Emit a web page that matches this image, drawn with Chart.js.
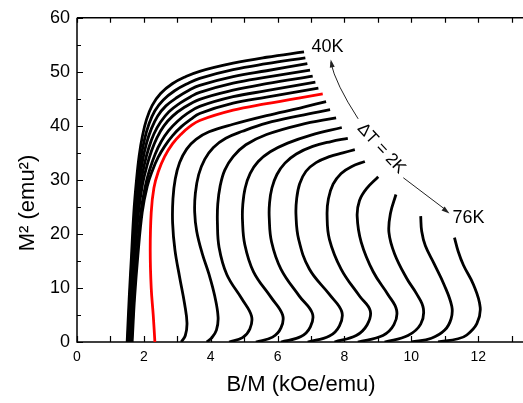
<!DOCTYPE html>
<html><head><meta charset="utf-8">
<script src="https://cdn.jsdelivr.net/npm/chart.js@4.4.1/dist/chart.umd.min.js"></script>
<style>
html,body{margin:0;padding:0;background:#fff;overflow:hidden;}
#wrap{position:relative;width:523px;height:403px;overflow:hidden;background:#fff;}
canvas{display:block;}
</style></head><body>
<div id="wrap"><canvas id="c" width="530" height="403"></canvas></div>
<script>
// ---- Data ----
const temps = [40, 42, 44, 46, 48, 50, 52, 54, 56, 58, 60, 62, 64, 66, 68, 70, 72, 74, 76];
const redTemp = 54;

const t40x = [1.50,1.56,1.63,1.70,1.78,1.86,1.96,2.08,2.25,2.50,2.85,3.25,3.67,4.67,5.67,6.79];
const t40y = [0,8,16,24,30,34.5,38.2,41.2,43.8,46.0,47.8,49.1,50.1,51.6,52.7,53.7];
const t42x = [1.52,1.58,1.65,1.73,1.82,1.91,2.02,2.15,2.33,2.58,2.92,3.30,3.67,4.67,5.67,6.83];
const t42y = [0,8,16,24,29.8,34.0,37.5,40.3,42.8,44.8,46.5,47.8,48.8,50.4,51.5,52.6];
const t44x = [1.54,1.60,1.67,1.76,1.86,1.96,2.08,2.22,2.41,2.66,3.00,3.35,3.67,4.67,5.67,6.89];
const t44y = [0,8,16,24,29.6,33.5,36.8,39.4,41.8,43.7,45.3,46.6,47.5,49.1,50.2,51.5];
const t46x = [1.56,1.62,1.70,1.80,1.91,2.02,2.15,2.30,2.50,2.75,3.08,3.40,3.67,4.67,5.67,6.97];
const t46y = [0,8,16,24,29.4,33.0,36.0,38.5,40.7,42.6,44.2,45.4,46.2,47.9,49.0,50.3];
const t48x = [1.58,1.65,1.73,1.84,1.96,2.09,2.23,2.39,2.60,2.86,3.18,3.67,4.67,5.67,7.05];
const t48y = [0,8,16,24,29.2,32.6,35.4,37.8,40.0,41.8,43.3,44.9,46.6,47.8,49.2];
const t50x = [1.63,1.70,1.79,1.91,2.05,2.19,2.34,2.52,2.74,3.00,3.30,3.67,4.67,5.67,7.13];
const t50y = [0,8,16,24,29,32.2,34.8,37.1,39.1,40.8,42.3,43.6,45.4,46.5,48.1];
const t52x = [1.65,1.72,1.82,1.95,2.10,2.26,2.43,2.63,2.86,3.13,3.40,3.67,4.67,5.67,7.22];
const t52y = [0,8,16,24,28.8,31.8,34.2,36.3,38.2,39.9,41.2,42.3,44.2,45.3,47.0];
const t54x = [2.33,2.28,2.22,2.19,2.22,2.30,2.43,2.62,2.86,3.12,3.38,3.67,4.67,5.67,6.67,7.35];
const t54y = [0,5,10,17,24,28.5,31.5,34.3,36.7,38.5,39.9,41.0,42.9,44.1,45.2,45.9];
const t56x = [3.12,3.24,3.29,3.22,3.07,2.93,2.86,2.87,2.94,3.07,3.28,3.56,3.95,4.67,5.67,6.67,7.45];
const t56y = [0,1.2,3.5,7,12,17,22,26.5,30.2,33.2,35.7,37.5,38.9,40.3,41.9,43.3,44.5];
const t58x = [3.88,4.02,4.17,4.22,4.12,3.95,3.74,3.58,3.52,3.54,3.64,3.82,4.08,4.45,4.95,5.67,6.67,7.57];
const t58y = [0,0.7,2.2,4.6,8.5,12.5,16.5,20.5,24,27.5,31,33.8,36,37.7,39.0,40.5,41.9,43.0];
const t60x = [4.55,4.95,5.17,5.22,4.93,4.48,4.25,4.20,4.21,4.28,4.42,4.67,5.05,5.67,6.67,7.75];
const t60y = [0,0.8,2.4,4.8,8,12.5,17.5,22,25.5,28.8,31.8,34.3,36.5,38.4,40.2,41.5];
const t62x = [5.35,5.85,6.10,6.15,5.80,5.28,5.02,4.95,4.96,5.03,5.18,5.42,5.78,6.30,7.00,7.92];
const t62y = [0,0.9,2.6,5,8.3,13,18,22.5,25.5,28.5,31.2,33.4,35.2,36.8,38.3,39.7];
const t64x = [6.10,6.70,6.98,7.04,6.65,6.10,5.82,5.75,5.76,5.83,5.98,6.22,6.56,7.05,7.60,8.10];
const t64y = [0,1.0,2.8,5.3,8.5,13.5,18.5,23,25.8,28.5,31.0,33.1,34.8,36.2,37.1,37.7];
const t66x = [6.90,7.55,7.85,7.92,7.55,6.95,6.63,6.55,6.57,6.66,6.85,7.15,7.55,7.95,8.31];
const t66y = [0,1.1,3.0,5.6,8.8,13.5,19,23.5,26.5,29.3,31.6,33.2,34.3,35.0,35.6];
const t68x = [7.70,8.35,8.68,8.77,8.45,7.90,7.55,7.48,7.52,7.66,7.90,8.22,8.61];
const t68y = [0,1.2,3.2,5.8,8.5,13.5,19,23.5,26.5,29.2,31.2,32.5,33.4];
const t70x = [8.40,9.15,9.48,9.56,9.30,8.86,8.50,8.38,8.45,8.66,9.01];
const t70y = [0,1.2,3.2,5.9,8.8,13,18.5,23.3,26.2,28.4,30.6];
const t72x = [9.20,9.90,10.28,10.36,10.15,9.86,9.50,9.33,9.38,9.54];
const t72y = [0,1.2,3.3,6.2,9,11.8,16.3,20.3,23.9,27.3];
const t74x = [10.00,10.60,11.00,11.19,11.21,10.98,10.68,10.42,10.31,10.28];
const t74y = [0,0.7,2.2,4.3,6.6,10.6,14.5,17.8,20.5,23.3];
const t76x = [10.80,11.40,11.66,11.96,12.06,11.86,11.56,11.40,11.29];
const t76y = [0,0.6,1.3,3.4,6.4,10.6,14.2,16.8,19.3];

const curvesX = [t40x,t42x,t44x,t46x,t48x,t50x,t52x,t54x,t56x,t58x,t60x,t62x,t64x,t66x,t68x,t70x,t72x,t74x,t76x];
const curvesY = [t40y,t42y,t44y,t46y,t48y,t50y,t52y,t54y,t56y,t58y,t60y,t62y,t64y,t66y,t68y,t70y,t72y,t74y,t76y];

const xTickLabels = [0, 2, 4, 6, 8, 10, 12];
const yTickLabels = [0, 10, 20, 30, 40, 50, 60];
const xMinorTicks = [0,1,2,3,4,5,6,7,8,9,10,11,12,13];
const yMinorTicks = [0,5,10,15,20,25,30,35,40,45,50,55,60];

const xTitle = 'B/M (kOe/emu)';
const yTitle = 'M\u00B2 (emu\u00B2)';
const labelHigh = '40K';
const labelLow = '76K';
const labelStep = '\u0394T = 2K';

// ---- Chart ----
const FONT = "'Liberation Sans', Arial, Helvetica, sans-serif";

const datasets = temps.map((t, i) => ({
  label: t + 'K',
  data: curvesX[i].map((xv, j) => ({x: xv, y: curvesY[i][j]})),
  showLine: true,
  borderColor: t === redTemp ? '#ff0000' : '#000000',
  backgroundColor: 'transparent',
  borderWidth: 2.8,
  pointRadius: 0,
  pointHoverRadius: 0,
  tension: 0.4,
  fill: false,
  borderCapStyle: 'butt',
  borderJoinStyle: 'round'
}));

function arrowHead(ctx, x1, y1, x2, y2, len, wid) {
  const ang = Math.atan2(y2 - y1, x2 - x1);
  ctx.save();
  ctx.translate(x2, y2);
  ctx.rotate(ang);
  ctx.beginPath();
  ctx.moveTo(0, 0);
  ctx.lineTo(-len, wid / 2);
  ctx.lineTo(-len, -wid / 2);
  ctx.closePath();
  ctx.fill();
  ctx.restore();
}

const decor = {
  id: 'decor',
  beforeDatasetsDraw(chart) {
    const {ctx, chartArea: a, scales: {x, y}} = chart;
    ctx.save();
    ctx.strokeStyle = '#000';
    ctx.lineWidth = 1.5;
    ctx.beginPath();
    ctx.moveTo(a.left, a.top); ctx.lineTo(a.right + 10, a.top);
    ctx.moveTo(a.left, a.top); ctx.lineTo(a.left, a.bottom);
    ctx.lineTo(a.right + 10, a.bottom);
    ctx.stroke();
    ctx.lineWidth = 1.2;
    ctx.beginPath();
    for (const v of xMinorTicks) {
      const px = Math.round(x.getPixelForValue(v)) + 0.5;
      ctx.moveTo(px, a.bottom); ctx.lineTo(px, a.bottom - 6);
      ctx.moveTo(px, a.top); ctx.lineTo(px, a.top + 5);
    }
    for (const v of yMinorTicks) {
      const py = Math.round(y.getPixelForValue(v)) + 0.5;
      const len = (v % 10 === 0) ? 6 : 4;
      ctx.moveTo(a.left, py); ctx.lineTo(a.left + len, py);
    }
    ctx.stroke();
    ctx.restore();
  },
  afterDatasetsDraw(chart) {
    const {ctx, scales: {x, y}} = chart;
    ctx.save();
    ctx.fillStyle = '#000';
    // y axis title
    ctx.font = '22px ' + FONT;
    ctx.textAlign = 'center';
    ctx.textBaseline = 'middle';
    ctx.save();
    ctx.translate(28, 203);
    ctx.rotate(-Math.PI / 2);
    ctx.fillText(yTitle, 0, 0);
    ctx.restore();

    // annotation labels
    ctx.font = '18px ' + FONT;
    ctx.fillText(labelHigh, x.getPixelForValue(7.49), y.getPixelForValue(54.6));
    ctx.fillText(labelLow, x.getPixelForValue(11.71), y.getPixelForValue(22.9));
    ctx.save();
    ctx.translate(x.getPixelForValue(9.10), y.getPixelForValue(35.8));
    ctx.rotate(47 * Math.PI / 180);
    ctx.font = '17px ' + FONT;
    ctx.fillText(labelStep, 0, 0);
    ctx.restore();

    // curved arrow to 40K
    ctx.strokeStyle = '#222';
    ctx.fillStyle = '#222';
    ctx.lineWidth = 1;
    const sx = x.getPixelForValue(8.41), sy = y.getPixelForValue(41.3);
    const cx = x.getPixelForValue(7.73), cy = y.getPixelForValue(47.8);
    const ex = x.getPixelForValue(7.59), ey = y.getPixelForValue(52.3);
    ctx.beginPath();
    ctx.moveTo(sx, sy);
    ctx.quadraticCurveTo(cx, cy, ex, ey + 3);
    ctx.stroke();
    arrowHead(ctx, cx, cy, ex, ey, 8, 5);

    // straight arrow to 76K
    const ax = x.getPixelForValue(9.76), ay = y.getPixelForValue(30.4);
    const bx = x.getPixelForValue(11.14), by = y.getPixelForValue(23.8);
    ctx.beginPath();
    ctx.moveTo(ax, ay);
    ctx.lineTo(bx - 3, by - 3);
    ctx.stroke();
    arrowHead(ctx, ax, ay, bx, by, 8, 5);
    ctx.restore();
  }
};

new Chart(document.getElementById('c'), {
  type: 'scatter',
  data: {datasets},
  options: {
    responsive: false,
    animation: false,
    devicePixelRatio: 1,
    layout: {padding: {top: 11, right: 5, bottom: 0, left: 0}},
    plugins: {legend: {display: false}, tooltip: {enabled: false}},
    events: [],
    scales: {
      x: {
        type: 'linear', position: 'bottom', min: 0, max: 13.4,
        grid: {display: false, drawTicks: false},
        border: {display: false},
        afterBuildTicks: (s) => { s.ticks = xTickLabels.map(v => ({value: v})); },
        afterFit: (s) => { s.height = 61; },
        ticks: {font: {size: 14, family: FONT}, color: '#000', padding: 7, maxRotation: 0, autoSkip: false},
        title: {display: true, text: xTitle, color: '#000', font: {size: 22, family: FONT}, padding: {top: 0, bottom: 5}}
      },
      y: {
        type: 'linear', position: 'left', min: 0, max: 60,
        grid: {display: false, drawTicks: false},
        border: {display: false},
        afterBuildTicks: (s) => { s.ticks = yTickLabels.map(v => ({value: v})); },
        afterFit: (s) => { s.width = 77; },
        ticks: {font: {size: 18, family: FONT}, color: '#000', padding: 7, autoSkip: false},
        title: {display: false}
      }
    }
  },
  plugins: [decor]
});
</script></body></html>
